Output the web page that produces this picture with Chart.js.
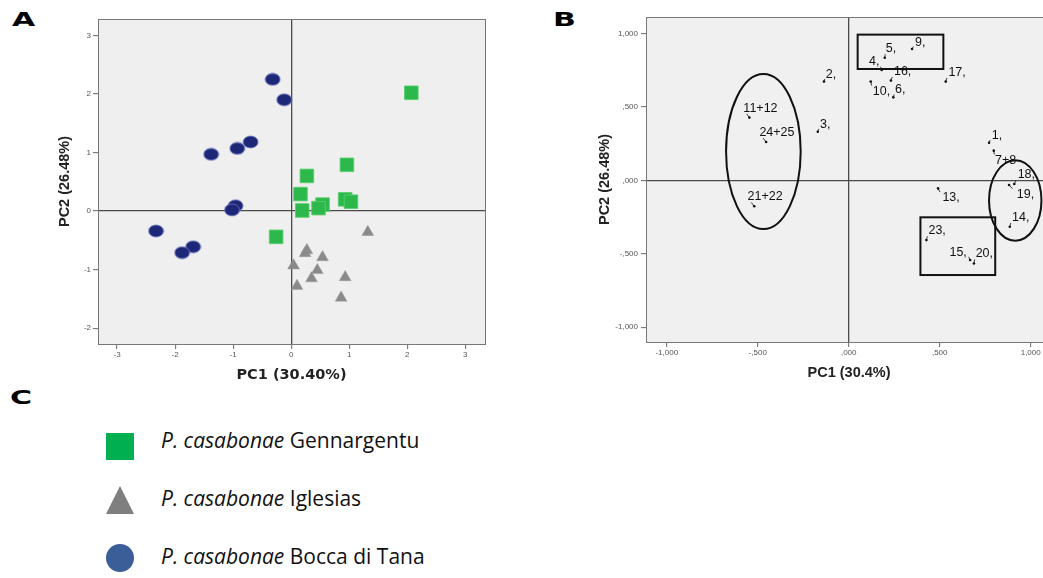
<!DOCTYPE html>
<html>
<head>
<meta charset="utf-8">
<script src="https://cdn.jsdelivr.net/npm/chart.js@4.4.1/dist/chart.umd.min.js"></script>
<style>
  html, body { margin: 0; padding: 0; background: #fff; }
  body { width: 1043px; height: 578px; overflow: hidden; position: relative; font-family: "Liberation Sans", Arial, sans-serif; }
  .letter { position: absolute; font-family: "DejaVu Sans", sans-serif; font-size: 20px; line-height: 20px; font-weight: bold; color: #000;
            transform-origin: left top; transform: scaleX(1.5); }
  #wrapA { position: absolute; left: 0; top: 0; width: 500px; height: 390px; }
  #wrapB { position: absolute; left: 590px; top: 0; width: 470px; height: 390px; }
  .key { position: absolute; left: 106px; width: 28px; height: 28px; }
  .key.sq { top: 433px; height: 27px; background: #00b050; }
  .key.tri { top: 486px; width: 0; height: 0; border-left: 14px solid transparent; border-right: 14px solid transparent; border-bottom: 28px solid #7f7f7f; }
  .key.dot { top: 544px; border-radius: 50%; background: #3b5e98; }
  .keytext { position: absolute; left: 161px; font-family: "Open Sans", sans-serif; font-size: 21px; line-height: 21px; color: #111; white-space: nowrap; }
</style>
</head>
<body>
<div class="letter" style="left:12px; top:9px;">A</div>
<div class="letter" style="left:553px; top:9px;">B</div>
<div class="letter" style="left:10px; top:387px;">C</div>

<div id="wrapA"><canvas id="chartA" width="500" height="390"></canvas></div>
<div id="wrapB"><canvas id="chartB" width="470" height="390"></canvas></div>

<div class="key sq"></div>
<div class="keytext" style="top:430px;"><i>P. casabonae</i> Gennargentu</div>
<div class="key tri"></div>
<div class="keytext" style="top:488px;"><i>P. casabonae</i> Iglesias</div>
<div class="key dot"></div>
<div class="keytext" style="top:546px;"><i>P. casabonae</i> Bocca di Tana</div>

<script>
// ---- panel A: PCA scores per population ----
const boccaX = [-0.32, -0.12, -0.70, -0.93, -1.38, -0.96, -1.02, -2.33, -1.69, -1.88];
const boccaY = [2.25, 1.90, 1.18, 1.07, 0.97, 0.09, 0.02, -0.34, -0.61, -0.71];
const gennX = [2.07, 0.96, 0.27, 0.16, 0.93, 1.03, 0.54, 0.47, 0.19, -0.26];
const gennY = [2.02, 0.79, 0.60, 0.29, 0.20, 0.16, 0.11, 0.05, 0.01, -0.44];
const iglX = [1.32, 0.27, 0.24, 0.54, 0.04, 0.45, 0.35, 0.93, 0.10, 0.86];
const iglY = [-0.36, -0.67, -0.72, -0.79, -0.93, -1.01, -1.15, -1.13, -1.28, -1.48];
const xTicksA = [-3, -2, -1, 0, 1, 2, 3];
const yTicksA = [-2, -1, 0, 1, 2, 3];

// ---- panel B: loadings of the characters ----
const charLabels = ['1,', '2,', '3,', '4,', '5,', '6,', '7+8', '9,', '10,', '11+12', '13,',
                    '14,', '15,', '16,', '17,', '18,', '19,', '20,', '21+22', '23,', '24+25'];
const charX = [0.771, -0.136, -0.170, 0.181, 0.198, 0.245, 0.797, 0.348, 0.121, -0.546, 0.491,
               0.885, 0.667, 0.232, 0.533, 0.910, 0.881, 0.688, -0.519, 0.427, -0.454];
const charY = [0.256, 0.672, 0.331, 0.751, 0.835, 0.565, 0.202, 0.894, 0.672, 0.427, -0.055,
               -0.316, -0.543, 0.679, 0.672, -0.025, -0.032, -0.566, -0.177, -0.407, 0.261];
const ticksB = [-1, -0.5, 0, 0.5, 1];
const tickLabelsB = ['-1,000', '-,500', ',000', ',500', '1,000'];
// groups drawn around the characters (data units): [cx, cy, rx, ry] and [x0, y0, x1, y1]
const groupEllipses = [[-0.469, 0.196, 0.205, 0.528], [0.915, -0.137, 0.144, 0.274]];
const groupBoxes = [[0.049, 0.758, 0.520, 0.992], [0.394, -0.645, 0.805, -0.252]];

// label placement next to each dot: [dx, dy, align] in px
const labelOffsets = [
  [2.7, -6.7, 'left'], [1.7, -6.7, 'left'], [2.3, -7.3, 'left'], [-2.3, -8.3, 'right'],
  [1, -8.7, 'left'], [1.7, -7.3, 'left'], [1.3, 9.7, 'left'], [3, -6.3, 'left'],
  [2, 10, 'left'], [-6, -9.3, 'left'], [4.3, 9.3, 'left'], [2.3, -9.3, 'left'],
  [-3.3, -8, 'right'], [3, -9, 'left'], [2.7, -9.3, 'left'], [3.3, -9, 'left'],
  [7.7, 9.3, 'left'], [1.7, -10, 'left'], [-6.7, -9.7, 'left'], [2, -9.7, 'left'],
  [-6.7, -9.7, 'left']
];

Chart.defaults.font.family = '"Liberation Sans", Arial, sans-serif';
Chart.defaults.animation = false;

const zip = (xs, ys) => xs.map((v, i) => ({ x: v, y: ys[i] }));

function ellipseMarker(w, h, fill, edge) {
  const c = document.createElement('canvas');
  c.width = w + 2;
  c.height = h + 2;
  const g = c.getContext('2d');
  g.beginPath();
  g.ellipse(c.width / 2, c.height / 2, w / 2, h / 2, 0, 0, Math.PI * 2);
  g.fillStyle = fill;
  g.fill();
  g.lineWidth = 1;
  g.strokeStyle = edge;
  g.stroke();
  return c;
}

// grey plot background and a box round the plot
const plotFrame = {
  id: 'plotFrame',
  beforeDraw(chart, args, opts) {
    const a = chart.chartArea;
    chart.ctx.save();
    chart.ctx.fillStyle = opts.fill;
    chart.ctx.fillRect(a.left, a.top, a.width, a.height);
    chart.ctx.restore();
  },
  afterDraw(chart, args, opts) {
    const a = chart.chartArea;
    const ctx = chart.ctx;
    ctx.save();
    ctx.strokeStyle = opts.edge;
    ctx.lineWidth = 1;
    ctx.strokeRect(Math.round(a.left) + 0.5, Math.round(a.top) + 0.5, Math.round(a.width), Math.round(a.height));
    ctx.restore();
  }
};

const zeroLine = (c) => (c.tick && c.tick.value === 0 ? '#4a4a4a' : 'rgba(0,0,0,0)');

function axis(opts) {
  return {
    type: 'linear',
    min: opts.min,
    max: opts.max,
    afterBuildTicks: (s) => { s.ticks = opts.ticks.map((v) => ({ value: v })); },
    afterFit: (s) => { if (opts.width) s.width = opts.width; if (opts.height) s.height = opts.height; },
    ticks: {
      color: '#555',
      font: { size: 8 },
      padding: opts.tickPad,
      callback: opts.labels ? (v, i) => opts.labels[i] : (v) => String(v)
    },
    grid: { color: zeroLine, lineWidth: 1.3, tickLength: 5, tickColor: '#666', tickWidth: 1 },
    border: { display: true, color: '#777', width: 1 },
    title: {
      display: true,
      text: opts.title,
      color: '#222',
      font: { family: opts.titleFont, size: 14.5, weight: 'bold' },
      padding: opts.titlePad
    }
  };
}

new Chart(document.getElementById('chartA'), {
  type: 'scatter',
  data: {
    datasets: [
      {
        label: 'P. casabonae Bocca di Tana',
        data: zip(boccaX, boccaY),
        pointStyle: ellipseMarker(15, 12, '#1d2777', 'rgba(110,120,190,0.8)'),
        pointRadius: 7
      },
      {
        label: 'P. casabonae Gennargentu',
        data: zip(gennX, gennY),
        pointStyle: 'rect',
        pointRadius: 9.6,
        backgroundColor: '#2db84b',
        borderColor: 'rgba(90,205,110,0.9)',
        borderWidth: 1
      },
      {
        label: 'P. casabonae Iglesias',
        data: zip(iglX, iglY),
        pointStyle: 'triangle',
        pointRadius: 6.8,
        backgroundColor: '#8a8a8a',
        borderColor: '#9a9a9a',
        borderWidth: 0.5
      }
    ]
  },
  options: {
    responsive: false,
    layout: { padding: { left: 0, top: 19, right: 15, bottom: 0 } },
    plugins: {
      legend: { display: false },
      tooltip: { enabled: false },
      plotFrame: { fill: '#efefef', edge: '#777' }
    },
    scales: {
      x: axis({ min: -3.33, max: 3.34, ticks: xTicksA, height: 46, tickPad: 1,
                title: 'PC1 (30.40%)', titleFont: '"DejaVu Sans", sans-serif', titlePad: { top: 0, bottom: 6.3 } }),
      y: axis({ min: -2.27, max: 3.28, ticks: yTicksA, width: 98, tickPad: 2,
                title: 'PC2 (26.48%)', titleFont: '"Liberation Sans", Arial, sans-serif', titlePad: { top: 56, bottom: 0 } })
    }
  },
  plugins: [plotFrame]
});

// character numbers, leader ticks and the drawn groups
const charLabelPlugin = {
  id: 'charLabels',
  afterDatasetsDraw(chart) {
    const { ctx } = chart;
    const sx = chart.scales.x;
    const sy = chart.scales.y;
    ctx.save();
    ctx.strokeStyle = '#111';
    ctx.lineWidth = 2;
    groupEllipses.forEach(([cx, cy, rx, ry]) => {
      const px = sx.getPixelForValue(cx);
      const py = sy.getPixelForValue(cy);
      ctx.beginPath();
      ctx.ellipse(px, py, sx.getPixelForValue(cx + rx) - px, py - sy.getPixelForValue(cy + ry), 0, 0, Math.PI * 2);
      ctx.stroke();
    });
    groupBoxes.forEach(([x0, y0, x1, y1]) => {
      const a = sx.getPixelForValue(x0);
      const b = sy.getPixelForValue(y1);
      ctx.strokeRect(a, b, sx.getPixelForValue(x1) - a, sy.getPixelForValue(y0) - b);
    });

    ctx.font = '12.5px "Liberation Sans", Arial, sans-serif';
    ctx.fillStyle = '#111';
    ctx.textBaseline = 'middle';
    ctx.lineWidth = 0.8;
    chart.getDatasetMeta(0).data.forEach((pt, i) => {
      const [dx, dy, align] = labelOffsets[i];
      ctx.beginPath();
      ctx.moveTo(pt.x, pt.y);
      ctx.lineTo(pt.x + dx * 0.45, pt.y + dy * 0.4);
      ctx.stroke();
      ctx.textAlign = align;
      ctx.fillText(charLabels[i], pt.x + dx, pt.y + dy);
    });
    ctx.restore();
  }
};

new Chart(document.getElementById('chartB'), {
  type: 'scatter',
  data: {
    labels: charLabels,
    datasets: [{
      label: 'characters',
      data: zip(charX, charY),
      pointRadius: 1.3,
      backgroundColor: '#111',
      borderWidth: 0
    }]
  },
  options: {
    responsive: false,
    layout: { padding: { left: 0, top: 17, right: 8, bottom: 0 } },
    plugins: {
      legend: { display: false },
      tooltip: { enabled: false },
      plotFrame: { fill: '#f0f0f0', edge: '#777' }
    },
    scales: {
      x: axis({ min: -1.114, max: 1.117, ticks: ticksB, labels: tickLabelsB, height: 48, tickPad: 1,
                title: 'PC1 (30.4%)', titleFont: '"Liberation Sans", Arial, sans-serif', titlePad: { top: 0, bottom: 8.3 } }),
      y: axis({ min: -1.101, max: 1.112, ticks: ticksB, labels: tickLabelsB, width: 56, tickPad: 3,
                title: 'PC2 (26.48%)', titleFont: '"Liberation Sans", Arial, sans-serif', titlePad: { top: 6.3, bottom: 0 } })
    }
  },
  plugins: [plotFrame, charLabelPlugin]
});
</script>
</body>
</html>
